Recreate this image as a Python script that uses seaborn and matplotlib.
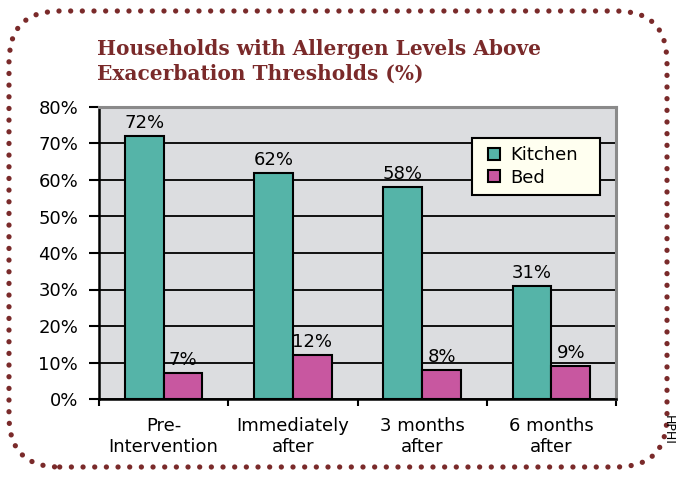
import matplotlib
matplotlib.use("Agg")
import matplotlib.pyplot as plt
import seaborn as sns
import pandas as pd
import numpy as np
from matplotlib.patches import FancyBboxPatch
from matplotlib.lines import Line2D
from matplotlib.ticker import FixedLocator

stages = ["Pre-\nIntervention", "Immediately\nafter", "3 months\nafter", "6 months\nafter"]
kitchen = [72, 62, 58, 31]
bed = [7, 12, 8, 9]
yticks = [0, 10, 20, 30, 40, 50, 60, 70, 80]

palette = {"Kitchen": "#55b4a8", "Bed": "#c857a0"}
darkred = "#7a2a2a"

df = pd.DataFrame({
    "Stage": stages * 2,
    "Percent": kitchen + bed,
    "Location": ["Kitchen"] * len(stages) + ["Bed"] * len(stages),
})

sns.set_style("white")
plt.rcParams["font.family"] = ["DejaVu Sans"]
plt.rcParams["text.color"] = "black"
plt.rcParams["xtick.color"] = "black"
plt.rcParams["ytick.color"] = "black"

fig = plt.figure(figsize=(6.76, 4.79), dpi=100)
ax = fig.add_axes([99 / 676, 1 - 399 / 479, 517 / 676, 292 / 479])
ax.set_facecolor("#dcdde0")

sns.barplot(data=df, x="Stage", y="Percent", hue="Location", palette=palette,
            width=0.6, saturation=1, edgecolor="black", linewidth=1.5, ax=ax, zorder=3)

ax.set_ylim(0, 80)
ax.set_xlim(-0.5, 3.5)
ax.set_yticks(yticks)
ax.set_yticklabels([f"{v}%" for v in yticks], fontsize=13)
ax.yaxis.grid(True, color="black", linewidth=1.3, zorder=0)
ax.set_axisbelow(True)
ax.tick_params(axis="y", left=True, length=7, width=1.5, pad=8)
ax.tick_params(axis="x", which="major", length=0, labelsize=13, pad=13)
ax.xaxis.set_minor_locator(FixedLocator([-0.5, 0.5, 1.5, 2.5, 3.5]))
ax.tick_params(axis="x", which="minor", bottom=True, length=5, width=1.5)
ax.set_xlabel("")
ax.set_ylabel("")

for s in ["left", "bottom"]:
    ax.spines[s].set_color("black")
    ax.spines[s].set_linewidth(1.8)
for s in ["right", "top"]:
    ax.spines[s].set_color("#8a8a8a")
    ax.spines[s].set_linewidth(2.2)

for container in ax.containers:
    labels = [f"{int(v)}%" for v in container.datavalues]
    ax.bar_label(container, labels=labels, padding=3, fontsize=13, color="black")

handles = [Line2D([], [], marker="s", markersize=8.5, linestyle="",
                  markerfacecolor=palette[k], markeredgecolor="black",
                  markeredgewidth=1.5) for k in ["Kitchen", "Bed"]]
leg = ax.legend(handles, ["Kitchen", "Bed"], loc="upper left",
                bbox_to_anchor=(0.721, 0.699, 0.248, 0.195), mode="expand",
                borderaxespad=0, fontsize=13, frameon=True, fancybox=False,
                edgecolor="black", facecolor="#fffff0", framealpha=1,
                handlelength=1.6, handletextpad=0.1, borderpad=0.45, labelspacing=0.25)
leg.get_frame().set_linewidth(1.5)
leg.set_zorder(5)

fig.text(97 / 676, 1 - 39 / 479,
         "Households with Allergen Levels Above\nExacerbation Thresholds (%)",
         fontsize=14.5, fontweight="bold", family="DejaVu Serif", color=darkred,
         va="top", ha="left", linespacing=1.3)

fig.text(668 / 676, 1 - 430 / 479, "HPHI", rotation=-90, fontsize=9,
         ha="center", va="center")

border = FancyBboxPatch((9 / 676, 12 / 479), 658 / 676, 456 / 479,
                        boxstyle="round,pad=0,rounding_size=0.075",
                        transform=fig.transFigure, fill=False, edgecolor=darkred,
                        linewidth=3.8, linestyle=(0, (0.01, 2.2)),
                        mutation_aspect=676 / 479)
border.set_capstyle("round")
fig.patches.append(border)

fig.savefig("out.png", dpi=100)
